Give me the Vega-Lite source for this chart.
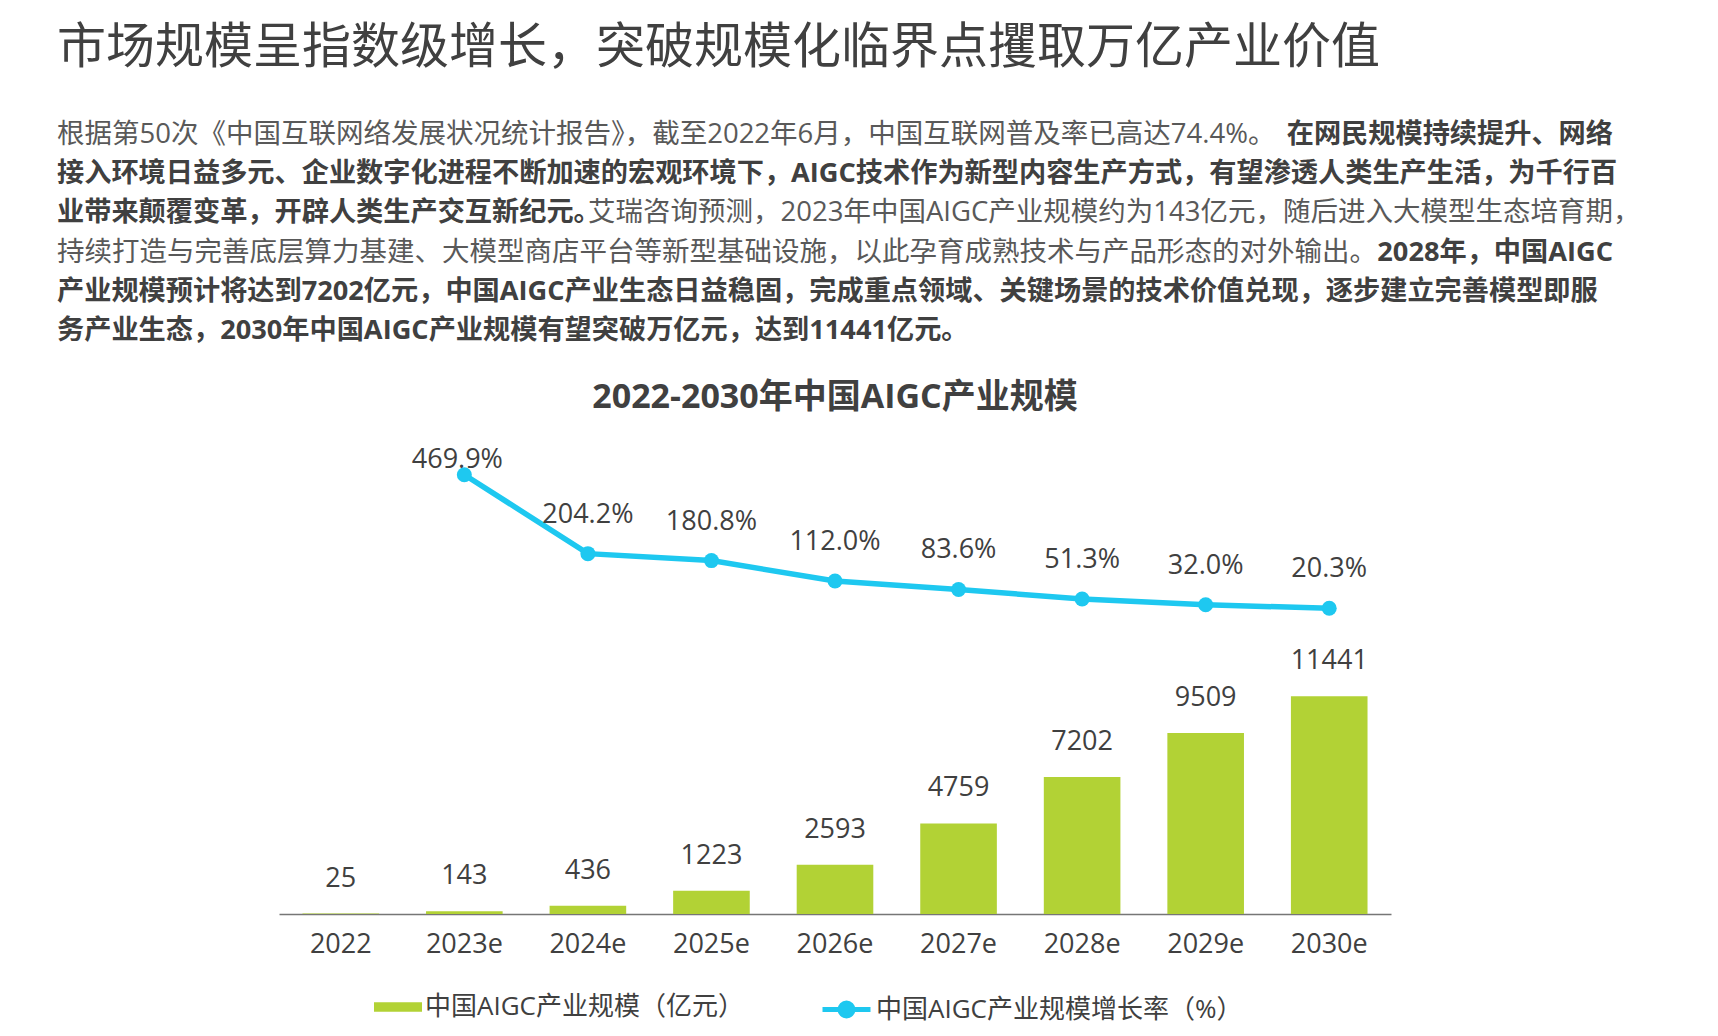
{
  "$schema": "https://vega.github.io/schema/vega-lite/v6.json",
  "background": "white",
  "autosize": "pad",
  "padding": {"left": 57, "top": 24, "right": 10, "bottom": 16},
  "title": {
    "text": "市场规模呈指数级增长，突破规模化临界点攫取万亿产业价值",
    "anchor": "start",
    "fontSize": 49,
    "fontWeight": "normal",
    "color": "#404040",
    "offset": 48
  },
  "center": true,
  "bounds": "flush",
  "spacing": 111,
  "vconcat": [
    {
      "width": 1556,
      "height": 196,
      "data": {
        "values": [
          {"line": 1, "side": "start", "bold": false, "trailing": false, "text": "根据第50次《中国互联网络发展状况统计报告》，截至2022年6月，中国互联网普及率已高达74.4%。"},
          {"line": 1, "side": "end", "bold": true, "trailing": false, "text": "在网民规模持续提升、网络"},
          {"line": 2, "side": "start", "bold": true, "trailing": false, "text": "接入环境日益多元、企业数字化进程不断加速的宏观环境下，AIGC技术作为新型内容生产方式，有望渗透人类生产生活，为千行百"},
          {"line": 3, "side": "start", "bold": true, "trailing": false, "text": "业带来颠覆变革，开辟人类生产交互新纪元。"},
          {"line": 3, "side": "end", "bold": false, "trailing": false, "text": "艾瑞咨询预测，2023年中国AIGC产业规模约为143亿元，随后进入大模型生态培育期"},
          {"line": 3, "side": "end", "bold": false, "trailing": true, "text": "，"},
          {"line": 4, "side": "start", "bold": false, "trailing": false, "text": "持续打造与完善底层算力基建、大模型商店平台等新型基础设施，以此孕育成熟技术与产品形态的对外输出。"},
          {"line": 4, "side": "end", "bold": true, "trailing": false, "text": "2028年，中国AIGC"},
          {"line": 5, "side": "start", "bold": true, "trailing": false, "text": "产业规模预计将达到7202亿元，中国AIGC产业生态日益稳固，完成重点领域、关键场景的技术价值兑现，逐步建立完善模型即服"},
          {"line": 6, "side": "start", "bold": true, "trailing": false, "text": "务产业生态，2030年中国AIGC产业规模有望突破万亿元，达到11441亿元。"}
        ]
      },
      "encoding": {
        "x": {"field": "side", "type": "nominal", "scale": {"type": "point", "domain": ["start", "end"], "padding": 0}, "axis": null},
        "y": {"field": "line", "type": "ordinal", "scale": {"type": "point", "padding": 0}, "axis": null},
        "text": {"field": "text"}
      },
      "layer": [
        {"transform": [{"filter": "datum.side == 'start' && !datum.bold"}], "mark": {"type": "text", "align": "left", "baseline": "middle", "fontSize": 27.5, "fontWeight": "normal", "color": "#595959"}},
        {"transform": [{"filter": "datum.side == 'start' && datum.bold"}], "mark": {"type": "text", "align": "left", "baseline": "middle", "fontSize": 27.2, "fontWeight": "bold", "color": "#404040"}},
        {"transform": [{"filter": "datum.side == 'end' && datum.bold"}], "mark": {"type": "text", "align": "right", "baseline": "middle", "fontSize": 27.2, "fontWeight": "bold", "color": "#404040"}},
        {"transform": [{"filter": "datum.side == 'end' && !datum.bold && !datum.trailing"}], "mark": {"type": "text", "align": "right", "baseline": "middle", "fontSize": 27.5, "fontWeight": "normal", "color": "#595959"}},
        {"transform": [{"filter": "datum.side == 'end' && datum.trailing"}], "mark": {"type": "text", "align": "left", "baseline": "middle", "fontSize": 27.5, "fontWeight": "normal", "color": "#595959"}}
      ]
    },
    {
      "width": 1112,
      "height": 472,
      "title": {"text": "2022-2030年中国AIGC产业规模", "fontSize": 34, "fontWeight": "bold", "color": "#404040", "anchor": "middle", "offset": 27},
      "data": {
        "values": [
          {"year": "2022", "size": 25, "growth": null},
          {"year": "2023e", "size": 143, "growth": 4.699},
          {"year": "2024e", "size": 436, "growth": 2.042},
          {"year": "2025e", "size": 1223, "growth": 1.808},
          {"year": "2026e", "size": 2593, "growth": 1.120},
          {"year": "2027e", "size": 4759, "growth": 0.836},
          {"year": "2028e", "size": 7202, "growth": 0.513},
          {"year": "2029e", "size": 9509, "growth": 0.320},
          {"year": "2030e", "size": 11441, "growth": 0.203}
        ]
      },
      "encoding": {
        "x": {
          "field": "year", "type": "nominal", "sort": null,
          "scale": {"paddingInner": 0.38, "paddingOuter": 0.19},
          "axis": {"title": null, "labelAngle": 0, "ticks": false, "grid": false, "domainColor": "#767676", "domainWidth": 1.5, "labelFontSize": 27, "labelColor": "#404040", "labelPadding": 17}
        }
      },
      "layer": [
        {
          "layer": [
            {
              "mark": {"type": "bar"},
              "encoding": {
                "y": {"field": "size", "type": "quantitative", "scale": {"domain": [0, 24800]}, "axis": null},
                "color": {"datum": "中国AIGC产业规模（亿元）", "type": "nominal", "scale": {"range": ["#B2D235"]},
                  "legend": {"title": null, "orient": "none", "legendX": 317, "legendY": 848, "padding": 0, "direction": "horizontal", "symbolType": "M-1,-0.2H1V0.2H-1Z", "symbolSize": 2304, "symbolStrokeWidth": 0, "labelFontSize": 26, "labelColor": "#404040", "labelOffset": 3, "labelLimit": 800}}
              }
            },
            {
              "mark": {"type": "text", "baseline": "middle", "dy": -35, "fontSize": 27, "color": "#404040"},
              "encoding": {
                "y": {"field": "size", "type": "quantitative", "scale": {"domain": [0, 24800]}, "axis": null},
                "text": {"field": "size", "type": "quantitative", "format": "d"}
              }
            }
          ]
        },
        {
          "transform": [{"filter": "datum.growth != null"}],
          "layer": [
            {
              "mark": {"type": "line", "strokeWidth": 5.5},
              "encoding": {
                "y": {"field": "growth", "type": "quantitative", "scale": {"domain": [-10.09, 5.8]}, "axis": null},
                "stroke": {"datum": "中国AIGC产业规模增长率（%）", "type": "nominal", "scale": {"range": ["#1EC8F0"]},
                  "legend": {"title": null, "orient": "none", "legendX": 763, "legendY": 848, "padding": 0, "direction": "horizontal", "symbolType": "M-1,0H1M-0.27,0A0.27,0.27 0 1,1 0.27,0A0.27,0.27 0 1,1 -0.27,0", "symbolSize": 2304, "symbolStrokeWidth": 5, "symbolFillColor": "#1EC8F0", "labelFontSize": 26, "labelColor": "#404040", "labelOffset": 3, "labelLimit": 800}}
              }
            },
            {
              "mark": {"type": "point", "filled": true, "size": 225, "color": "#1EC8F0", "opacity": 1},
              "encoding": {
                "y": {"field": "growth", "type": "quantitative", "scale": {"domain": [-10.09, 5.8]}, "axis": null}
              }
            },
            {
              "transform": [{"filter": "datum.year == '2023e'"}],
              "mark": {"type": "text", "baseline": "middle", "dy": -15, "dx": -7, "fontSize": 27, "color": "#404040"},
              "encoding": {
                "y": {"field": "growth", "type": "quantitative", "scale": {"domain": [-10.09, 5.8]}, "axis": null},
                "text": {"field": "growth", "type": "quantitative", "format": ".1%"}
              }
            },
            {
              "transform": [{"filter": "datum.year != '2023e'"}],
              "mark": {"type": "text", "baseline": "middle", "dy": -39, "fontSize": 27, "color": "#404040"},
              "encoding": {
                "y": {"field": "growth", "type": "quantitative", "scale": {"domain": [-10.09, 5.8]}, "axis": null},
                "text": {"field": "growth", "type": "quantitative", "format": ".1%"}
              }
            }
          ]
        }
      ],
      "resolve": {"scale": {"y": "independent"}}
    }
  ],
  "config": {
    "font": "Open Sans, Noto Sans CJK SC",
    "view": {"stroke": null},
    "axis": {"grid": false}
  }
}
